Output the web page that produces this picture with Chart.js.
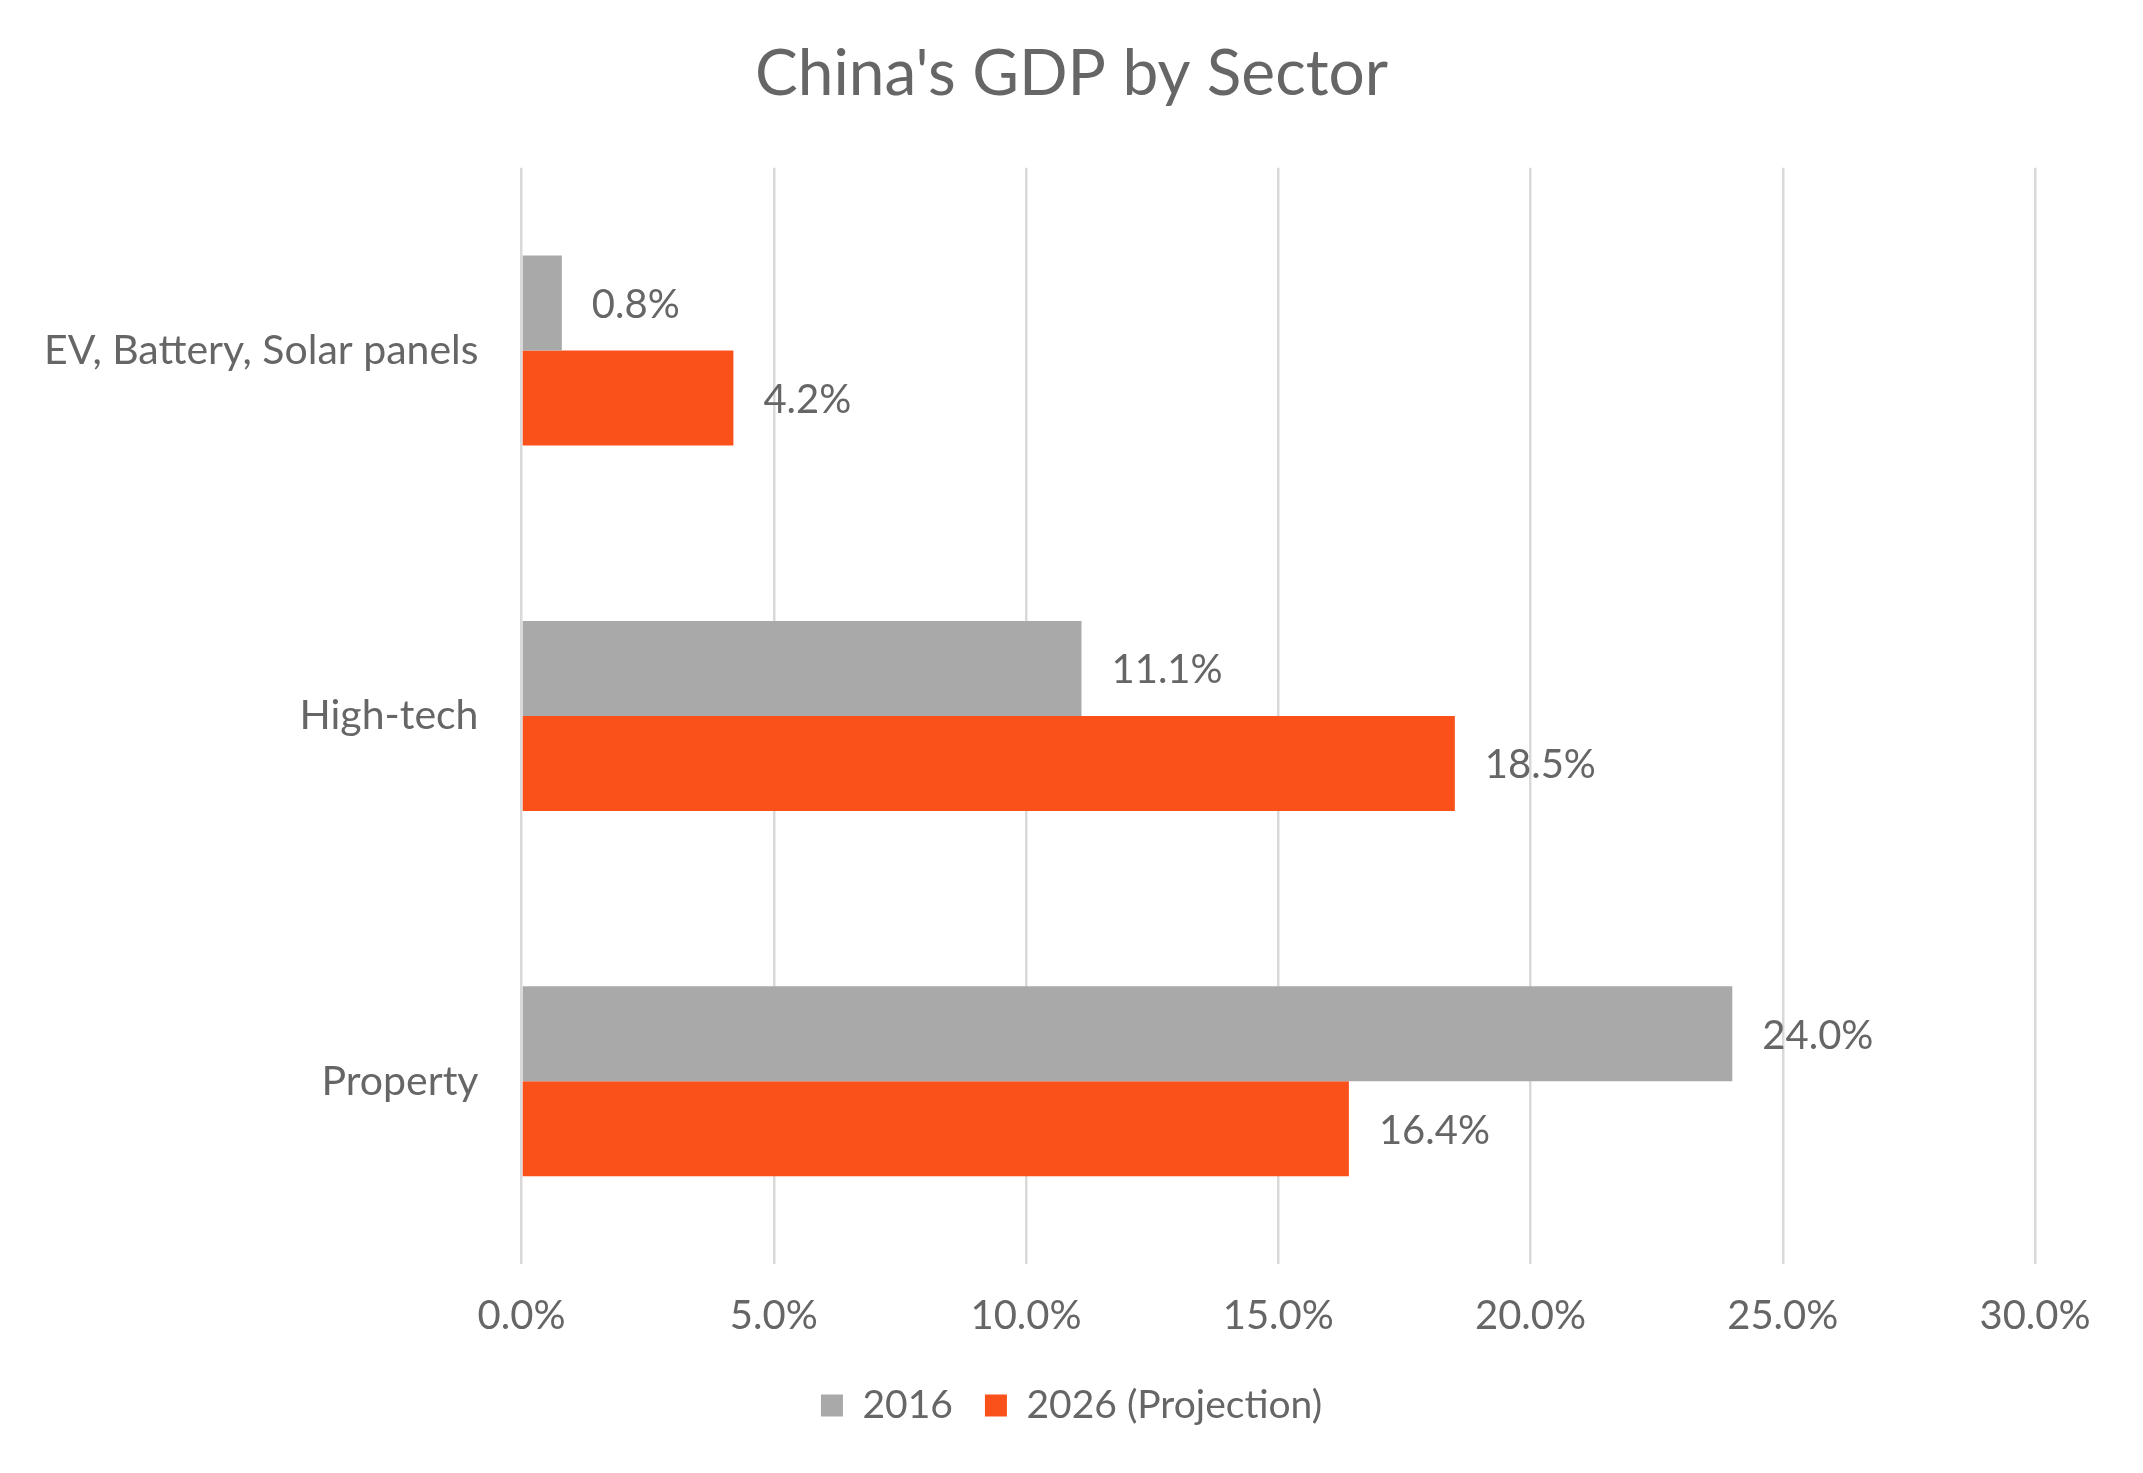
<!DOCTYPE html>
<html>
<head>
<meta charset="utf-8">
<title>China's GDP by Sector</title>
<script src="https://cdn.jsdelivr.net/npm/chart.js@4.4.1/dist/chart.umd.min.js"></script>
<style>
    html, body { margin: 0; padding: 0; background: #ffffff; }
    #wrap { width: 2143px; height: 1473px; position: relative; }
</style>
</head>
<body>
<div id="wrap"><canvas id="myChart"></canvas></div>
<script>
/** 数据 */
var sectors = ['EV, Battery, Solar panels', 'High-tech', 'Property']
var seriesNames = ['2016', '2026 (Projection)']
var values2016 = [0.8, 11.1, 24.0]
var values2026 = [4.2, 18.5, 16.4]
var xTicks = [0, 5, 10, 15, 20, 25, 30]

var textColor = '#666666'
var fontName = 'Lato, "Open Sans", sans-serif'

/** 在柱子右边写数值 */
var valueLabels = {
    id: 'valueLabels',
    afterDatasetsDraw: function (chart) {
        var ctx = chart.ctx
        ctx.save()
        ctx.font = '40px ' + fontName
        ctx.fillStyle = textColor
        ctx.textAlign = 'left'
        ctx.textBaseline = 'middle'
        chart.data.datasets.forEach(function (ds, i) {
            var meta = chart.getDatasetMeta(i)
            meta.data.forEach(function (bar, j) {
                ctx.fillText(ds.data[j].toFixed(1) + '%', bar.x + 30, bar.y + 2)
            })
        })
        ctx.restore()
    }
}

var data = {
    labels: sectors,
    datasets: [
        {
            label: seriesNames[0],
            data: values2016,
            backgroundColor: '#a9a9a9',
            borderWidth: 0,
            barPercentage: 1.0,
            categoryPercentage: 0.52
        },
        {
            label: seriesNames[1],
            data: values2026,
            backgroundColor: '#fa5019',
            borderWidth: 0,
            barPercentage: 1.0,
            categoryPercentage: 0.52
        }
    ]
}

var ctx = document.getElementById('myChart').getContext('2d')
var myChart = new Chart(ctx, {
    type: 'bar',
    data: data,
    plugins: [valueLabels],
    options: {
        indexAxis: 'y',
        responsive: true,
        maintainAspectRatio: false,
        devicePixelRatio: 1,
        animation: false,
        layout: { padding: { left: 0, right: 0, top: 0, bottom: 38 } },
        plugins: {
            title: {
                display: true,
                text: "China's GDP by Sector",
                color: textColor,
                font: { family: fontName, size: 64, weight: 'normal', lineHeight: 1.2 },
                padding: { top: 36, bottom: 55 }
            },
            legend: {
                position: 'bottom',
                labels: {
                    color: textColor,
                    font: { family: fontName, size: 39 },
                    boxWidth: 22,
                    boxHeight: 22,
                    padding: 32
                }
            },
            tooltip: { enabled: false }
        },
        scales: {
            x: {
                min: 0,
                max: 30,
                afterBuildTicks: function (scale) {
                    scale.ticks = xTicks.map(function (v) { return { value: v } })
                },
                afterFit: function (scale) { scale.height = 90 },
                ticks: {
                    color: textColor,
                    font: { family: fontName, size: 40 },
                    padding: 28,
                    maxRotation: 0,
                    callback: function (v) { return Number(v).toFixed(1) + '%' }
                },
                grid: { color: '#d9d9d9', lineWidth: 2.5, drawTicks: false },
                border: { display: false }
            },
            y: {
                afterFit: function (scale) { scale.width = 521.5 },
                ticks: {
                    color: textColor,
                    font: { family: fontName, size: 41 },
                    padding: 43
                },
                grid: { display: false, drawTicks: false },
                border: { display: false }
            },
            yRight: {
                type: 'linear',
                position: 'right',
                afterFit: function (scale) { scale.width = 108 },
                ticks: { display: false },
                grid: { display: false, drawTicks: false },
                border: { display: false }
            }
        }
    }
})
</script>
</body>
</html>
